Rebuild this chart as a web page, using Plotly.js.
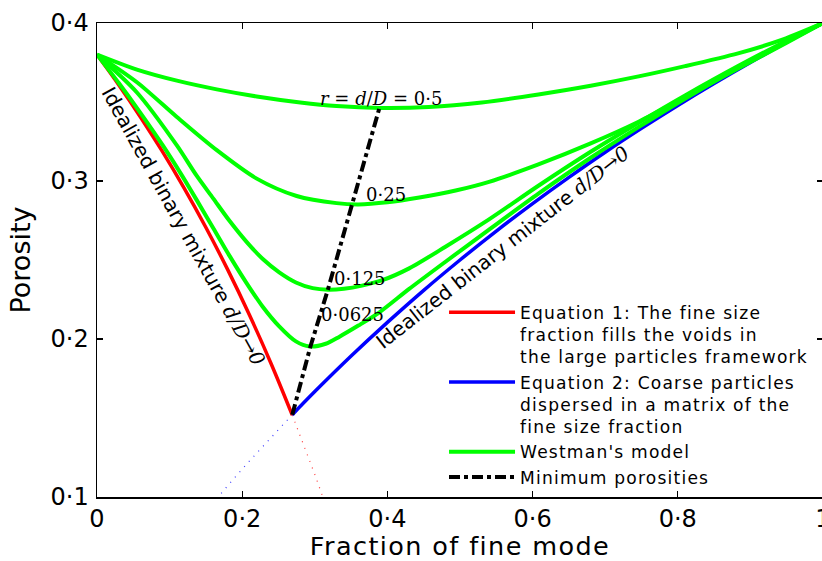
<!DOCTYPE html>
<html>
<head>
<meta charset="utf-8">
<script src="https://cdn.plot.ly/plotly-3.0.1.min.js"></script>
<style>
html,body{margin:0;padding:0;overflow:hidden;background:#fff;}
#chart{width:826px;height:561px;}
.legendtext{letter-spacing:1.2px;}
.xtitle{letter-spacing:1.4px;}
</style>
</head>
<body>
<div id="chart"></div>
<script>
// ---- data ----
// Equation 1 (fine fills voids)
const eq1X = [0, 0.03, 0.06, 0.09, 0.12, 0.15, 0.18, 0.21, 0.24, 0.269];
const eq1Y = [0.38, 0.3608, 0.3404, 0.3187, 0.2955, 0.2706, 0.2439, 0.2152, 0.1842, 0.1518];
const eq1ExtX = [0.269, 0.28, 0.29, 0.30, 0.31];
const eq1ExtY = [0.1518, 0.1389, 0.1268, 0.1143, 0.1014];
// Equation 2 (coarse dispersed in fine matrix)
const eq2X = [0.269, 0.3, 0.35, 0.4, 0.45, 0.5, 0.55, 0.6, 0.65, 0.7, 0.75, 0.8, 0.85, 0.9, 0.95, 1];
const eq2Y = [0.1521, 0.1667, 0.1892, 0.2105, 0.2308, 0.25, 0.2683, 0.2857, 0.3023, 0.3182, 0.3333, 0.3478, 0.3617, 0.375, 0.3878, 0.4];
const eq2ExtX = [0.269, 0.24, 0.21, 0.19, 0.167];
const eq2ExtY = [0.1521, 0.1379, 0.1228, 0.1124, 0.1002];
// Westman's model curves
const w05X = [0, 0.055, 0.11, 0.165, 0.22, 0.28, 0.33, 0.39, 0.457, 0.53, 0.608, 0.68, 0.746, 0.81, 0.883, 0.94, 1];
const w05Y = [0.38, 0.3705, 0.3635, 0.358, 0.3535, 0.3497, 0.3474, 0.3462, 0.3468, 0.3497, 0.3548, 0.3603, 0.3662, 0.3727, 0.3808, 0.3888, 0.4];
const w025X = [0, 0.055, 0.11, 0.165, 0.22, 0.275, 0.33, 0.36, 0.40, 0.444, 0.494, 0.54, 0.608, 0.68, 0.746, 0.81, 0.883, 0.95, 1];
const w025Y = [0.38, 0.3625, 0.3405, 0.3195, 0.3015, 0.2905, 0.286, 0.2852, 0.2865, 0.2895, 0.294, 0.2995, 0.3105, 0.3238, 0.3375, 0.353, 0.3712, 0.3875, 0.4];
const w0125X = [0, 0.055, 0.11, 0.137, 0.16, 0.183, 0.206, 0.228, 0.251, 0.274, 0.297, 0.318, 0.34, 0.365, 0.393, 0.43, 0.48, 0.54, 0.608, 0.68, 0.746, 0.81, 0.883, 0.95, 1];
const w0125Y = [0.38, 0.356, 0.3225, 0.3035, 0.289, 0.2745, 0.2615, 0.2508, 0.2422, 0.2358, 0.2322, 0.2312, 0.2318, 0.2338, 0.2372, 0.2447, 0.2584, 0.2757, 0.297, 0.3185, 0.3369, 0.3541, 0.3727, 0.3888, 0.4];
const w00625X = [0, 0.03, 0.06, 0.09, 0.115, 0.137, 0.16, 0.183, 0.206, 0.228, 0.251, 0.274, 0.293, 0.315, 0.334, 0.36, 0.389, 0.43, 0.48, 0.54, 0.608, 0.68, 0.746, 0.81, 0.883, 0.95, 1];
const w00625Y = [0.38, 0.362, 0.343, 0.323, 0.305, 0.2882, 0.2703, 0.2523, 0.2354, 0.2206, 0.208, 0.1985, 0.1953, 0.197, 0.2015, 0.2085, 0.2169, 0.2317, 0.2489, 0.2692, 0.292, 0.3147, 0.3341, 0.3521, 0.3715, 0.3883, 0.4];
// Minimum porosities
const minX = [0.269, 0.294, 0.318, 0.352, 0.389];
const minY = [0.152, 0.1953, 0.2312, 0.2852, 0.3462];
// Curve labels
const curveLabels = ['<i>r</i> = <i>d</i>/<i>D</i> = 0·5', '0·25', '0·125', '0·0625'];
const curveLabelX = [0.391, 0.398, 0.3625, 0.3516];
const curveLabelY = [0.3525, 0.2915, 0.2385, 0.2152];
// Axis ticks
const xTickVals = [0, 0.2, 0.4, 0.6, 0.8, 1];
const xTickText = ['0', '0·2', '0·4', '0·6', '0·8', '1'];
const yTickVals = [0.1, 0.2, 0.3, 0.4];
const yTickText = ['0·1', '0·2', '0·3', '0·4'];

const SANS = 'DejaVu Sans, Arial, sans-serif';
const SERIF = 'DejaVu Serif, Times New Roman, serif';
const GREEN = '#00ff00';

const traces = [
  {x: eq1ExtX, y: eq1ExtY, mode: 'lines', showlegend: false, hoverinfo: 'skip',
   line: {color: '#ff3b3b', width: 1.2, dash: '1px,6px'}},
  {x: eq2ExtX, y: eq2ExtY, mode: 'lines', showlegend: false, hoverinfo: 'skip',
   line: {color: '#3b3bff', width: 1.2, dash: '1px,6px'}},
  {x: eq1X, y: eq1Y, mode: 'lines', name: 'Equation 1: The fine size<br>fraction fills the voids in<br>the large particles framework',
   legendrank: 1, line: {color: '#ff0000', width: 3.5, shape: 'spline'}},
  {x: eq2X, y: eq2Y, mode: 'lines', name: 'Equation 2: Coarse particles<br>dispersed in a matrix of the<br>fine size fraction',
   legendrank: 2, line: {color: '#0000ff', width: 3.5, shape: 'spline'}},
  {x: w05X, y: w05Y, mode: 'lines', name: "Westman's model", legendrank: 3, legendgroup: 'w',
   line: {color: GREEN, width: 4, shape: 'spline', smoothing: 0.8}},
  {x: w025X, y: w025Y, mode: 'lines', showlegend: false, legendgroup: 'w',
   line: {color: GREEN, width: 4, shape: 'spline', smoothing: 0.8}},
  {x: w0125X, y: w0125Y, mode: 'lines', showlegend: false, legendgroup: 'w',
   line: {color: GREEN, width: 4, shape: 'spline', smoothing: 0.8}},
  {x: w00625X, y: w00625Y, mode: 'lines', showlegend: false, legendgroup: 'w',
   line: {color: GREEN, width: 4, shape: 'spline', smoothing: 0.8}},
  {x: minX, y: minY, mode: 'lines', name: 'Minimum porosities', legendrank: 4,
   line: {color: '#000000', width: 4, dash: '11px,4px,4px,4px'}}
];

const annotations = curveLabels.map((t, i) => ({
  x: curveLabelX[i], y: curveLabelY[i], xref: 'x', yref: 'y', text: t, showarrow: false,
  font: {family: SERIF, size: 18, color: '#000'}, xanchor: 'center', yanchor: 'middle'
}));
const ideal = 'Idealized binary mixture <span style="font-family:DejaVu Serif;font-style:italic">d/D→0</span>';
annotations.push({x: 0.1187, y: 0.2714, xref: 'x', yref: 'y', text: ideal, showarrow: false,
  textangle: 61, font: {family: SANS, size: 20, color: '#000'}, xanchor: 'center', yanchor: 'middle'});
annotations.push({x: 0.559, y: 0.2584, xref: 'x', yref: 'y', text: ideal, showarrow: false,
  textangle: -38, font: {family: SANS, size: 20, color: '#000'}, xanchor: 'center', yanchor: 'middle'});

const axisCommon = {
  showgrid: false, zeroline: false, showline: true, linecolor: '#000', linewidth: 1.5,
  mirror: 'ticks', ticks: 'inside', ticklen: 6, tickwidth: 1.2, tickcolor: '#000',
  ticklabeloverflow: 'allow',
  tickfont: {family: SANS, size: 24, color: '#000'}
};

const layout = {
  width: 826, height: 561,
  margin: {l: 97, r: 3, t: 23, b: 64, pad: 0},
  paper_bgcolor: '#fff', plot_bgcolor: '#fff',
  font: {family: SANS, color: '#000'},
  showlegend: true,
  xaxis: Object.assign({}, axisCommon, {
    range: [0, 1], tickmode: 'array', tickvals: xTickVals, ticktext: xTickText,
    ticklabelstandoff: 0,
    title: {text: 'Fraction of fine mode', font: {family: SANS, size: 25.5, color: '#000'}, standoff: 10}
  }),
  yaxis: Object.assign({}, axisCommon, {
    range: [0.1, 0.4], tickmode: 'array', tickvals: yTickVals, ticktext: yTickText,
    ticklabelstandoff: 2,
    title: {text: 'Porosity', font: {family: SANS, size: 27, color: '#000'}, standoff: 12}
  }),
  legend: {
    x: 0.478, y: 0.4268, xanchor: 'left', yanchor: 'top',
    bgcolor: 'rgba(0,0,0,0)', borderwidth: 0, valign: 'top',
    itemwidth: 66, tracegroupgap: 0,
    font: {family: SANS, size: 17.1, color: '#000'}
  },
  annotations: annotations
};

Plotly.newPlot('chart', traces, layout, {staticPlot: true, displayModeBar: false});
</script>
</body>
</html>
